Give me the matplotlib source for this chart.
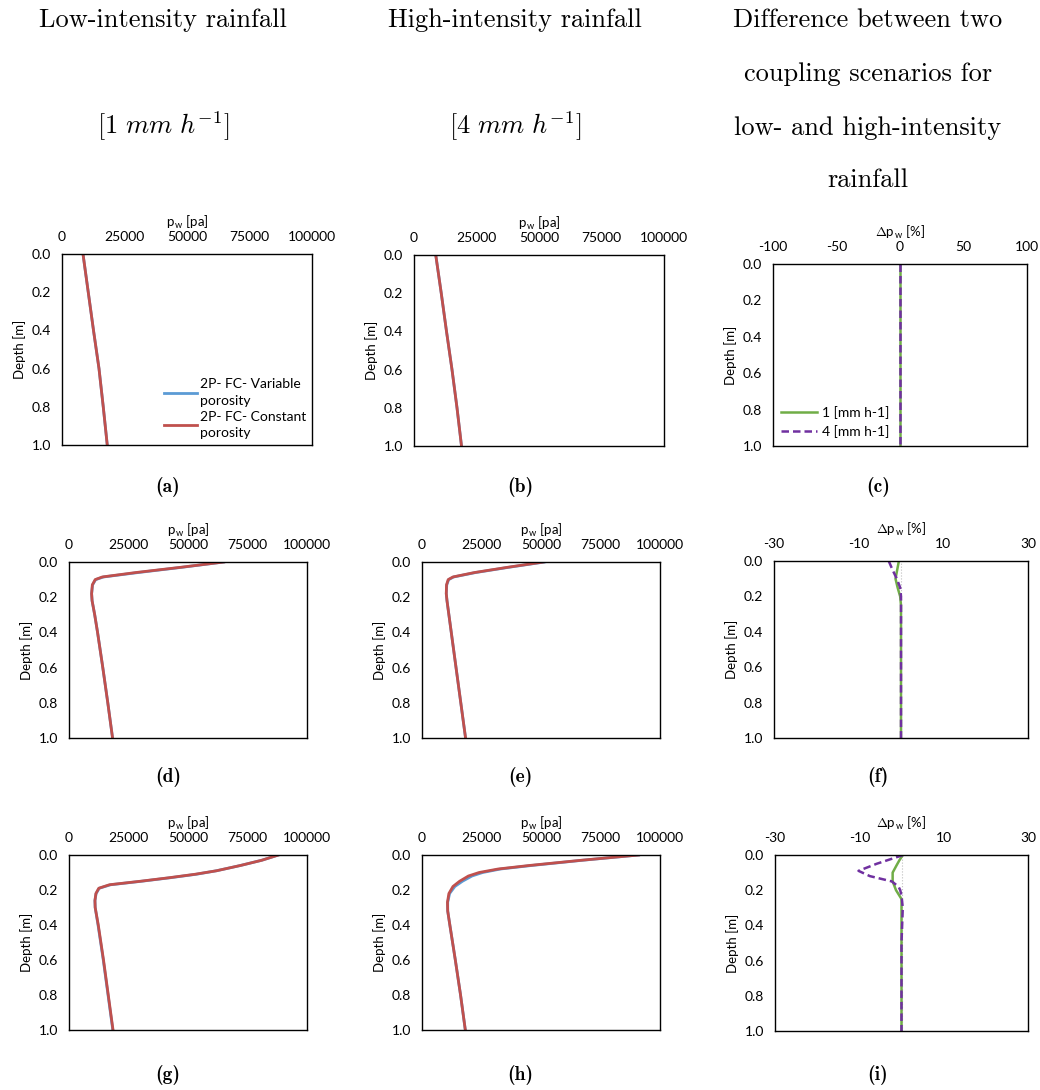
import numpy as np
import matplotlib.pyplot as plt
from matplotlib.ticker import FormatStrFormatter

W, H = 1040, 1090

# depth [m] and pore water pressure [pa]
depth_a = [0.0, 0.2, 0.4, 0.6, 0.8, 1.0]
pw_a_var = [8400, 10500, 12600, 14800, 16500, 18100]
pw_a_con = [8400, 10500, 12600, 14800, 16500, 18100]

depth_b = [0.0, 0.2, 0.4, 0.6, 0.8, 1.0]
pw_b_var = [8700, 10900, 13000, 15200, 17200, 19000]
pw_b_con = [8700, 10900, 13000, 15200, 17200, 19000]

depth_d = [0.0, 0.03, 0.06, 0.085, 0.1, 0.13, 0.18, 0.22, 0.3, 0.4, 0.6, 0.8, 1.0]
pw_d_var = [65000, 47500, 29000, 14500, 11200, 9900, 9500, 9700, 10800, 12000, 14200, 16300, 18300]
pw_d_con = [65000, 47000, 28000, 14000, 11000, 9800, 9500, 9700, 10800, 12000, 14200, 16300, 18300]

depth_e = [0.0, 0.03, 0.06, 0.085, 0.1, 0.13, 0.18, 0.22, 0.3, 0.4, 0.6, 0.8, 1.0]
pw_e_var = [51500, 36500, 22500, 13300, 11200, 10400, 10200, 10500, 11300, 12300, 14300, 16300, 18300]
pw_e_con = [51000, 36000, 22000, 13000, 11000, 10300, 10200, 10500, 11300, 12300, 14300, 16300, 18300]

depth_g = [0.0, 0.03, 0.06, 0.09, 0.11, 0.13, 0.15, 0.17, 0.19, 0.22, 0.26, 0.3, 0.4, 0.6, 0.8, 1.0]
pw_g_var = [88000, 81000, 72000, 62000, 53500, 42500, 30500, 17500, 12700, 11400, 10900, 11000, 12200, 14400, 16400, 18400]
pw_g_con = [88000, 81000, 72000, 62000, 53000, 42000, 30000, 17000, 12500, 11300, 10900, 11000, 12300, 14500, 16500, 18500]

depth_h = [0.0, 0.03, 0.06, 0.08, 0.1, 0.12, 0.15, 0.18, 0.22, 0.27, 0.32, 0.4, 0.6, 0.8, 1.0]
pw_h_var = [91000, 67500, 46000, 33000, 25500, 21000, 17000, 13800, 11600, 10800, 10800, 11700, 14000, 16200, 18200]
pw_h_con = [91000, 67000, 45000, 32000, 24000, 19500, 15800, 13000, 11300, 10700, 10800, 11700, 14000, 16200, 18200]

# difference between the two coupling scenarios [%]
depth_c = [0.0, 1.0]
dp_c_low = [0.0, 0.0]
dp_c_high = [0.0, 0.0]

depth_f = [0.0, 0.05, 0.1, 0.15, 0.2, 0.25, 0.3, 0.5, 1.0]
dp_f_low = [-0.5, -0.9, -1.3, -0.8, -0.2, 0.0, 0.0, 0.0, 0.0]
dp_f_high = [-2.9, -2.0, -1.0, -0.2, 0.0, 0.0, 0.0, 0.0, 0.0]

depth_i = [0.0, 0.03, 0.06, 0.1, 0.15, 0.2, 0.25, 0.3, 0.5, 1.0]
dp_i_low = [0.3, -0.5, -1.2, -2.1, -2.1, -1.3, 0.0, 0.0, 0.0, 0.0]
depth_i2 = [0.0, 0.05, 0.09, 0.12, 0.15, 0.18, 0.2, 0.23, 0.3, 0.5, 1.0]
dp_i_high = [0.4, -5.9, -10.2, -7.5, -2.3, -0.7, -0.3, 0.0, 0.3, 0.0, 0.0]

blue = "#5B9BD5"
red = "#C0504D"
green = "#70AD47"
purple = "#7030A0"
ui = "Lato"

plt.rcParams["axes.unicode_minus"] = False
plt.rcParams["mathtext.fontset"] = "cm"

fig = plt.figure(figsize=(W / 100, H / 100), dpi=100)


def box(l, t, r, b):
    return [l / W, 1 - b / H, (r - l) / W, (b - t) / H]


def style(ax, xlim, xticks, xlabel):
    ax.set_xlim(*xlim)
    ax.set_ylim(1.0, 0.0)
    ax.set_xticks(xticks)
    ax.set_yticks(np.arange(0, 1.01, 0.2))
    ax.yaxis.set_major_formatter(FormatStrFormatter("%.1f"))
    ax.xaxis.tick_top()
    ax.xaxis.set_label_position("top")
    ax.tick_params(length=0, labelsize=10, pad=8)
    for lab in ax.get_xticklabels() + ax.get_yticklabels():
        lab.set_fontfamily(ui)
    ax.set_xlabel(xlabel, fontsize=9.5, family=ui, labelpad=3)
    ax.set_ylabel("Depth [m]", fontsize=9.5, family=ui, labelpad=4)
    for s in ax.spines.values():
        s.set_linewidth(1.0)


def pw_panel(rect, d, var, con, legend=False):
    ax = fig.add_axes(box(*rect))
    ax.plot(var, d, color=blue, lw=2, label="2P- FC- Variable\nporosity")
    ax.plot(con, d, color=red, lw=2, label="2P- FC- Constant\nporosity")
    style(ax, (0, 100000), [0, 25000, 50000, 75000, 100000], r"p$_\mathregular{w}$ [pa]")
    if legend:
        leg = ax.legend(loc="lower right", frameon=False, prop={"family": ui, "size": 10},
                        handlelength=2.4, borderaxespad=0.0, labelspacing=0.3,
                        handletextpad=0.2)
        for t in leg.get_texts():
            t.set_linespacing(1.45)
    return ax


def dp_panel(rect, d1, low, d2, high, lim, ticks, legend=False):
    ax = fig.add_axes(box(*rect))
    ax.axvline(0, color="#BFBFBF", lw=0.8, ls=":")
    ax.plot(low, d1, color=green, lw=1.8, label="1 [mm h-1]")
    ax.plot(high, d2, color=purple, lw=1.8, ls=(0, (3, 1.6)), label="4 [mm h-1]")
    style(ax, lim, ticks, r"$\Delta$p$_\mathregular{w}$ [%]")
    if legend:
        ax.legend(loc="lower left", frameon=False, prop={"family": ui, "size": 10},
                  handlelength=2.6, borderaxespad=0.2, labelspacing=0.4, handletextpad=0.3)
    return ax


pw_panel((62, 254, 312, 445), depth_a, pw_a_var, pw_a_con, legend=True)
pw_panel((414, 255, 664, 446), depth_b, pw_b_var, pw_b_con)
dp_panel((773, 264, 1027, 446), depth_c, dp_c_low, depth_c, dp_c_high,
         (-100, 100), [-100, -50, 0, 50, 100], legend=True)

pw_panel((69, 562, 307, 738), depth_d, pw_d_var, pw_d_con)
pw_panel((422, 562, 660, 738), depth_e, pw_e_var, pw_e_con)
dp_panel((774, 561, 1028, 738), depth_f, dp_f_low, depth_f, dp_f_high,
         (-30, 30), [-30, -10, 10, 30])

pw_panel((69, 855, 307, 1030), depth_g, pw_g_var, pw_g_con)
pw_panel((422, 855, 660, 1030), depth_h, pw_h_var, pw_h_con)
dp_panel((775, 855, 1028, 1031), depth_i, dp_i_low, depth_i2, dp_i_high,
         (-30, 30), [-30, -10, 10, 30])

# column headings
serif = "cmr10"
fs = 19
fig.text(163 / W, 1 - 20 / H, "Low-intensity rainfall", family=serif, fontsize=fs,
         ha="center", va="center")
fig.text(163 / W, 1 - 126 / H, r"$[1\ mm\ h^{-1}]$", fontsize=fs, ha="center", va="center")
fig.text(515 / W, 1 - 20 / H, "High-intensity rainfall", family=serif, fontsize=fs,
         ha="center", va="center")
fig.text(515 / W, 1 - 126 / H, r"$[4\ mm\ h^{-1}]$", fontsize=fs, ha="center", va="center")
for y, line in zip([20, 74, 128, 180], ["Difference between two", "coupling scenarios for",
                                        "low- and high-intensity", "rainfall"]):
    fig.text(868 / W, 1 - y / H, line, family=serif, fontsize=fs, ha="center", va="center")

# panel letters
letters = ["(a)", "(b)", "(c)", "(d)", "(e)", "(f)", "(g)", "(h)", "(i)"]
lx = [168, 520, 878]
ly = [487, 777, 1075]
for k, lab in enumerate(letters):
    fig.text(lx[k % 3] / W, 1 - ly[k // 3] / H, lab, family="cmb10", fontsize=14,
             ha="center", va="center")

fig.savefig("out.png", dpi=100)
